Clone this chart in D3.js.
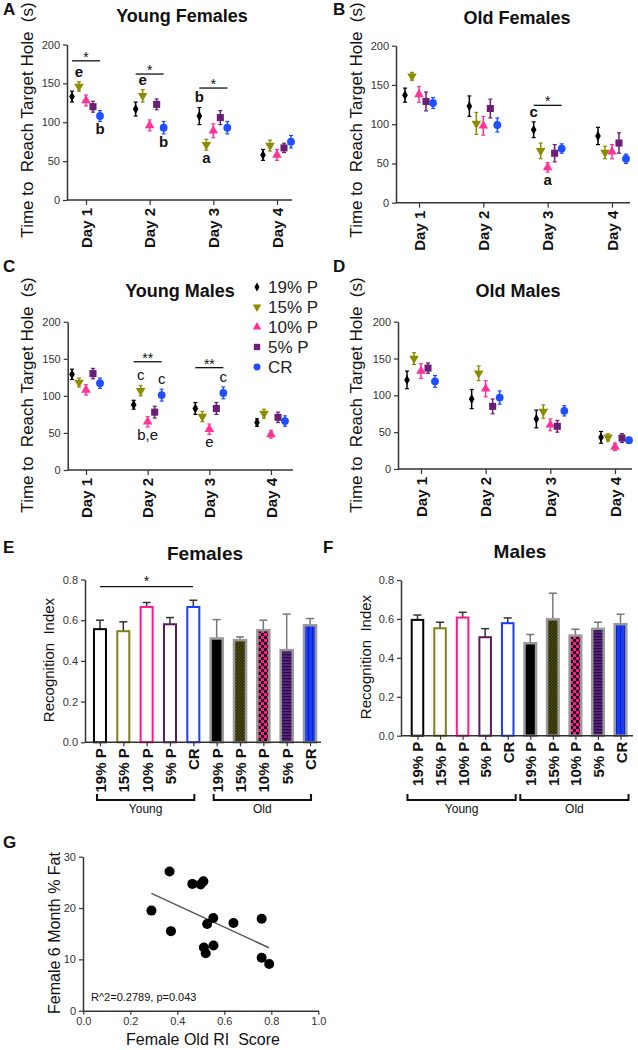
<!DOCTYPE html>
<html>
<head>
<meta charset="utf-8">
<script src="https://cdn.jsdelivr.net/npm/d3@7"></script>
<style>
body{margin:0;background:#fff}
text{font-family:Arial,"Liberation Sans",sans-serif;white-space:pre}
</style>
</head>
<body>
<svg width="638" height="1050"></svg>
<script>
// ---- data ----
var days = ["Day 1","Day 2","Day 3","Day 4"];
var groups = ["19% P","15% P","10% P","5% P","CR"];
var dotColors = ["#000000","#8c8c00","#ff3399","#6a1f75","#1f4fff"];
var barColors = ["#000000","#80801a","#ff1a8c","#5c1a5c","#1a3cff"];

// time to reach target hole, rows = days, cols = groups
var youngFemMean = [[133,146,128,120,108],[117,134,96,123,93],[108,71,89,106,93],[58,70,58,67,75]];
var youngFemErr  = [[7,6,7,7,7],[9,8,7,7,8],[11,7,9,9,8],[7,7,7,6,8]];
var oldFemMean   = [[137,161,138,129,127],[123,101,98,120,99],[93,66,45,63,69],[85,64,65,76,56]];
var oldFemErr    = [[9,5,10,12,7],[13,14,12,12,9],[10,10,6,11,6],[11,8,9,13,6]];
var youngMaleMean= [[129,118,108,130,117],[88,107,65,78,101],[83,72,55,83,104],[64,76,48,71,66]];
var youngMaleErr = [[7,6,7,7,7],[6,7,7,8,8],[8,7,7,8,8],[5,6,5,7,7]];
var oldMaleMean  = [[121,150,133,137,119],[95,130,109,85,97],[68,78,60,58,79],[43,43,30,42,39]];
var oldMaleErr   = [[12,8,10,7,8],[13,10,11,10,9],[12,9,8,8,7],[8,5,5,6,4]];

// significance bars [day, value, label] and letters [day, group, text, side]
var sigA = [[0,179,"*"],[1,162,"*"],[2,144,"*"]];
var sigB = [[2,124,"*"]];
var sigC = [[1,146,"**"],[2,138,"**"]];
var letA = [[0,1,"e","up"],[0,4,"b","down"],[1,1,"e","up"],[1,4,"b","down"],[2,0,"b","up"],[2,1,"a","down"]];
var letB = [[2,0,"c","up"],[2,2,"a","down"]];
var letC = [[1,1,"c","up"],[1,4,"c","up"],[1,2,"b,e","down"],[2,4,"c","up"],[2,2,"e","down"]];

// recognition index
var femYoung = [0.556,0.546,0.665,0.58,0.665];
var femYoungErr = [0.044,0.046,0.022,0.033,0.033];
var femOld = [0.51,0.502,0.551,0.453,0.575];
var femOldErr = [0.093,0.016,0.049,0.177,0.033];
var maleYoung = [0.595,0.552,0.607,0.506,0.578];
var maleYoungErr = [0.025,0.031,0.027,0.044,0.027];
var maleOld = [0.475,0.598,0.514,0.549,0.573];
var maleOldErr = [0.045,0.134,0.033,0.034,0.051];
var riTicks = [0,0.2,0.4,0.6,0.8];

// scatter G
var riScore = [0.29,0.367,0.373,0.464,0.499,0.511,0.513,0.521,0.527,0.553,0.554,0.639,0.759,0.759,0.791];
var fatPct  = [19.5,27.1,15.5,24.7,24.6,25.2,12.3,11.2,16.9,18.05,12.7,17.1,17.9,10.3,9.1];
var fitX = [0.29,0.79], fitY = [22.85,12.27];

var svg = d3.select("svg");

// patterns for old bars
var defs = svg.append("defs");
var p1 = defs.append("pattern").attr("id","pOlive").attr("width",3).attr("height",3).attr("patternUnits","userSpaceOnUse");
p1.append("rect").attr("width",3).attr("height",3).attr("fill","#55550a");
p1.append("rect").attr("width",1.5).attr("height",1.5).attr("fill","#222208");
p1.append("rect").attr("x",1.5).attr("y",1.5).attr("width",1.5).attr("height",1.5).attr("fill","#222208");
var p2 = defs.append("pattern").attr("id","pPink").attr("width",6).attr("height",6).attr("patternUnits","userSpaceOnUse");
p2.append("rect").attr("width",6).attr("height",6).attr("fill","#ff1a8c");
p2.append("rect").attr("width",3).attr("height",3).attr("fill","#111");
p2.append("rect").attr("x",3).attr("y",3).attr("width",3).attr("height",3).attr("fill","#111");
var p3 = defs.append("pattern").attr("id","pPurple").attr("width",4).attr("height",3).attr("patternUnits","userSpaceOnUse");
p3.append("rect").attr("width",4).attr("height",3).attr("fill","#5a2680");
p3.append("rect").attr("width",4).attr("height",1.3).attr("fill","#2a0a45");
var p4 = defs.append("pattern").attr("id","pBlue").attr("width",4).attr("height",4).attr("patternUnits","userSpaceOnUse");
p4.append("rect").attr("width",4).attr("height",4).attr("fill","#1a3cff");
p4.append("rect").attr("width",1.2).attr("height",4).attr("fill","#0a20c0");
var oldFills = ["#000","url(#pOlive)","url(#pPink)","url(#pPurple)","url(#pBlue)"];

var shapes = [d3.symbolDiamond, d3.symbolTriangle, d3.symbolTriangle, d3.symbolSquare, d3.symbolCircle];
var sizes = [28, 40, 40, 50, 48];
var rots = [0, 180, 0, 0, 0];

function styleAxis(a) {
  a.select(".domain").attr("stroke","#333").attr("stroke-width",1.5);
  a.selectAll(".tick line").attr("stroke","#333").attr("stroke-width",1.2);
  a.selectAll(".tick text").attr("fill","#333").style("font-size","11px");
}

function label(txt, x, y, size, weight, rot, anchor) {
  svg.append("text").attr("transform","translate("+x+","+y+")"+(rot ? " rotate("+rot+")" : ""))
    .attr("text-anchor", anchor || "middle").style("font-size", size+"px")
    .style("font-weight", weight || "normal").attr("fill","#111").text(txt);
}

// panels A-D
function linePanel(o) {
  var g = svg.append("g");
  var x = d3.scalePoint().domain(days).range([o.d0, o.d1]);
  var y = d3.scaleLinear().domain([0,200]).range([o.yb, o.yt]);
  var ya = g.append("g").attr("transform","translate("+o.x0+",0)")
    .call(d3.axisLeft(y).tickValues([0,50,100,150,200]).tickSize(4).tickSizeOuter(0));
  styleAxis(ya);
  var xa = g.append("g").attr("transform","translate(0,"+o.yb+")")
    .call(d3.axisBottom(x).tickSize(5).tickSizeOuter(0));
  styleAxis(xa);
  xa.select(".domain").attr("d","M"+o.x0+",0H"+o.x1);
  xa.selectAll(".tick text").attr("transform","rotate(-90)").attr("text-anchor","end")
    .attr("x",-8).attr("y",0).attr("dy","0.35em").attr("fill","#111")
    .style("font-size","15px").style("font-weight","bold");

  var off = function(j){ return (j-2)*7; };
  o.mean.forEach(function(row, i) {
    row.forEach(function(v, j) {
      var cx = x(days[i]) + off(j), e = o.err[i][j], c = dotColors[j];
      g.append("line").attr("x1",cx).attr("x2",cx).attr("y1",y(v-e)).attr("y2",y(v+e))
        .attr("stroke",c).attr("stroke-width",1.5);
      [v-e, v+e].forEach(function(t){
        g.append("line").attr("x1",cx-2).attr("x2",cx+2).attr("y1",y(t)).attr("y2",y(t))
          .attr("stroke",c).attr("stroke-width",1.2);
      });
      g.append("path").attr("d", d3.symbol().type(shapes[j]).size(sizes[j]))
        .attr("transform","translate("+cx+","+y(v)+") rotate("+rots[j]+")").attr("fill",c);
    });
  });
  o.sig.forEach(function(s) {
    var cx = x(days[s[0]]);
    g.append("line").attr("x1",cx-14).attr("x2",cx+14).attr("y1",y(s[1])).attr("y2",y(s[1]))
      .attr("stroke","#111").attr("stroke-width",1.3);
    g.append("text").attr("x",cx).attr("y",y(s[1])+1).attr("text-anchor","middle")
      .style("font-size","14px").attr("fill","#111").text(s[2]);
  });
  o.letters.forEach(function(l) {
    var v = o.mean[l[0]][l[1]], e = o.err[l[0]][l[1]];
    var cx = x(days[l[0]]) + off(l[1]);
    var ty = l[3] == "up" ? y(v+e) - 5 : y(v-e) + 13;
    g.append("text").attr("x",cx).attr("y",ty).attr("text-anchor","middle")
      .style("font-size","15px").style("font-weight", o.boldLetters ? "bold" : "normal")
      .attr("fill","#111").text(l[2]);
  });
  label(o.title, o.tx, o.ty, 18, "bold");
  label(o.letter, o.lx, o.ly, 17, "bold", 0, "start");
  label("Time to  Reach Target Hole  (s)", o.ylx, o.yly, 17, "normal", -90);
}

linePanel({mean:youngFemMean, err:youngFemErr, sig:sigA, letters:letA, boldLetters:true,
  x0:67, x1:292, d0:86, d1:277, yb:200, yt:44.5,
  title:"Young Females", tx:182, ty:22, letter:"A", lx:3, ly:15, ylx:33, yly:120});
linePanel({mean:oldFemMean, err:oldFemErr, sig:sigB, letters:letB, boldLetters:true,
  x0:396, x1:630, d0:419, d1:612, yb:202.7, yt:45.7,
  title:"Old Females", tx:517, ty:24, letter:"B", lx:333, ly:15, ylx:362, yly:120});
linePanel({mean:youngMaleMean, err:youngMaleErr, sig:sigC, letters:letC, boldLetters:false,
  x0:67.7, x1:293, d0:86, d1:271, yb:470, yt:321.7,
  title:"Young Males", tx:180, ty:297, letter:"C", lx:3, ly:272, ylx:33, yly:395});
linePanel({mean:oldMaleMean, err:oldMaleErr, sig:[], letters:[], boldLetters:false,
  x0:398, x1:632, d0:421, d1:615, yb:469, yt:321.7,
  title:"Old Males", tx:518, ty:297, letter:"D", lx:333, ly:272, ylx:362, yly:395});

// legend
groups.forEach(function(gname, j) {
  var ly = 287 + j*20;
  svg.append("path").attr("d", d3.symbol().type(shapes[j]).size(sizes[j]*0.8))
    .attr("transform","translate(257,"+ly+") rotate("+rots[j]+")").attr("fill",dotColors[j]);
  svg.append("text").attr("x",268).attr("y",ly+6).style("font-size","17px").attr("fill","#222").text(gname);
});

// panels E, F
function barPanel(o) {
  var g = svg.append("g");
  var vals = o.young.concat(o.old), errs = o.youngErr.concat(o.oldErr);
  var x = d3.scaleBand().domain(d3.range(10)).range([o.b0, o.b1]).paddingInner(0.4).paddingOuter(0.2);
  var y = d3.scaleLinear().domain([0,0.8]).range([o.yb, o.yt]);
  var bw = x.bandwidth();
  vals.forEach(function(v, i) {
    var cx = x(i) + bw/2, old = i >= 5, e = errs[i];
    g.append("line").attr("x1",cx).attr("x2",cx).attr("y1",y(v)).attr("y2",y(v+e))
      .attr("stroke", old ? "#777" : "#333").attr("stroke-width",1.5);
    g.append("line").attr("x1",cx-4).attr("x2",cx+4).attr("y1",y(v+e)).attr("y2",y(v+e))
      .attr("stroke", old ? "#777" : "#333").attr("stroke-width",1.5);
    g.append("rect").attr("x",x(i)+1).attr("y",y(v)).attr("width",bw-2).attr("height",o.yb-y(v))
      .attr("fill", old ? oldFills[i-5] : "#fff")
      .attr("stroke", old ? "#999" : barColors[i]).attr("stroke-width", old ? 2.5 : 2);
  });
  var ya = g.append("g").attr("transform","translate("+o.x0+",0)")
    .call(d3.axisLeft(y).tickValues(riTicks).tickFormat(d3.format(".1f")).tickSize(4).tickSizeOuter(0));
  styleAxis(ya);
  var xa = g.append("g").attr("transform","translate(0,"+o.yb+")")
    .call(d3.axisBottom(d3.scalePoint().domain(d3.range(10)).range([x(0)+bw/2, x(9)+bw/2])).tickSize(4).tickSizeOuter(0).tickFormat(""));
  styleAxis(xa);
  xa.select(".domain").attr("d","M"+o.x0+",0H"+o.x1);
  vals.forEach(function(v, i) {
    label(groups[i%5], x(i)+bw/2 + 6, o.yb+6, 15, "bold", -90, "end");
  });
  [["Young",0,4],["Old",5,9]].forEach(function(b) {
    var xa0 = x(b[1]) + bw/2 + o.brL, xa1 = x(b[2]) + bw/2 + o.brR, by = o.brY;
    g.append("path").attr("d","M"+xa0+","+(by-6)+"V"+by+"H"+xa1+"V"+(by-6))
      .attr("fill","none").attr("stroke","#111").attr("stroke-width",2);
    label(b[0], (xa0+xa1)/2, by+13, 12, "normal");
  });
  if (o.sig) {
    g.append("line").attr("x1",o.sig[0]).attr("x2",o.sig[1]).attr("y1",y(o.sig[2])).attr("y2",y(o.sig[2]))
      .attr("stroke","#111").attr("stroke-width",1.3);
    label("*", (o.sig[0]+o.sig[1])/2, y(o.sig[2])-1, 14, "normal");
  }
  label(o.title, o.tx, o.ty, 19, "bold");
  label(o.letter, o.lx, o.ly, 17, "bold", 0, "start");
  label("Recognition  Index", o.ylx, o.yly, 15, "normal", -90);
}

barPanel({young:femYoung, youngErr:femYoungErr, old:femOld, oldErr:femOldErr,
  x0:85, x1:321, b0:88.3, b1:321.7, yb:742.3, yt:579.5, brL:-3, brR:1, brY:800,
  sig:[100,193,0.765], title:"Females", tx:205, ty:560, letter:"E", lx:3, ly:553, ylx:54, yly:660});
barPanel({young:maleYoung, youngErr:maleYoungErr, old:maleOld, oldErr:maleOldErr,
  x0:401, x1:633, b0:406.2, b1:631.8, yb:735.7, yt:580, brL:-10, brR:8, brY:800,
  sig:null, title:"Males", tx:520, ty:558, letter:"F", lx:323, ly:553, ylx:371, yly:657});

// panel G
(function() {
  var g = svg.append("g");
  var x = d3.scaleLinear().domain([0,1]).range([83.3, 318.3]);
  var y = d3.scaleLinear().domain([0,30]).range([1010.7, 856.7]);
  var ya = g.append("g").attr("transform","translate(83,0)")
    .call(d3.axisLeft(y).tickValues([0,10,20,30]).tickSize(4).tickSizeOuter(0));
  styleAxis(ya);
  var xa = g.append("g").attr("transform","translate(0,1010.7)")
    .call(d3.axisBottom(x).tickValues([0,0.2,0.4,0.6,0.8,1.0]).tickFormat(d3.format(".1f")).tickSize(4).tickSizeOuter(0));
  styleAxis(xa);
  g.append("line").attr("x1",x(fitX[0])).attr("x2",x(fitX[1])).attr("y1",y(fitY[0])).attr("y2",y(fitY[1]))
    .attr("stroke","#555").attr("stroke-width",1.5);
  g.selectAll("circle").data(riScore).enter().append("circle")
    .attr("cx", function(d){ return x(d); })
    .attr("cy", function(d, i){ return y(fatPct[i]); })
    .attr("r", 5).attr("fill","#000");
  label("R^2=0.2789, p=0.043", 91, 1001, 11, "normal", 0, "start");
  label("Female 6 Month % Fat", 60, 933, 16, "normal", -90);
  label("Female Old RI  Score", 203, 1045, 16, "normal");
  label("G", 3, 848, 17, "bold", 0, "start");
})();
</script>
</body>
</html>
